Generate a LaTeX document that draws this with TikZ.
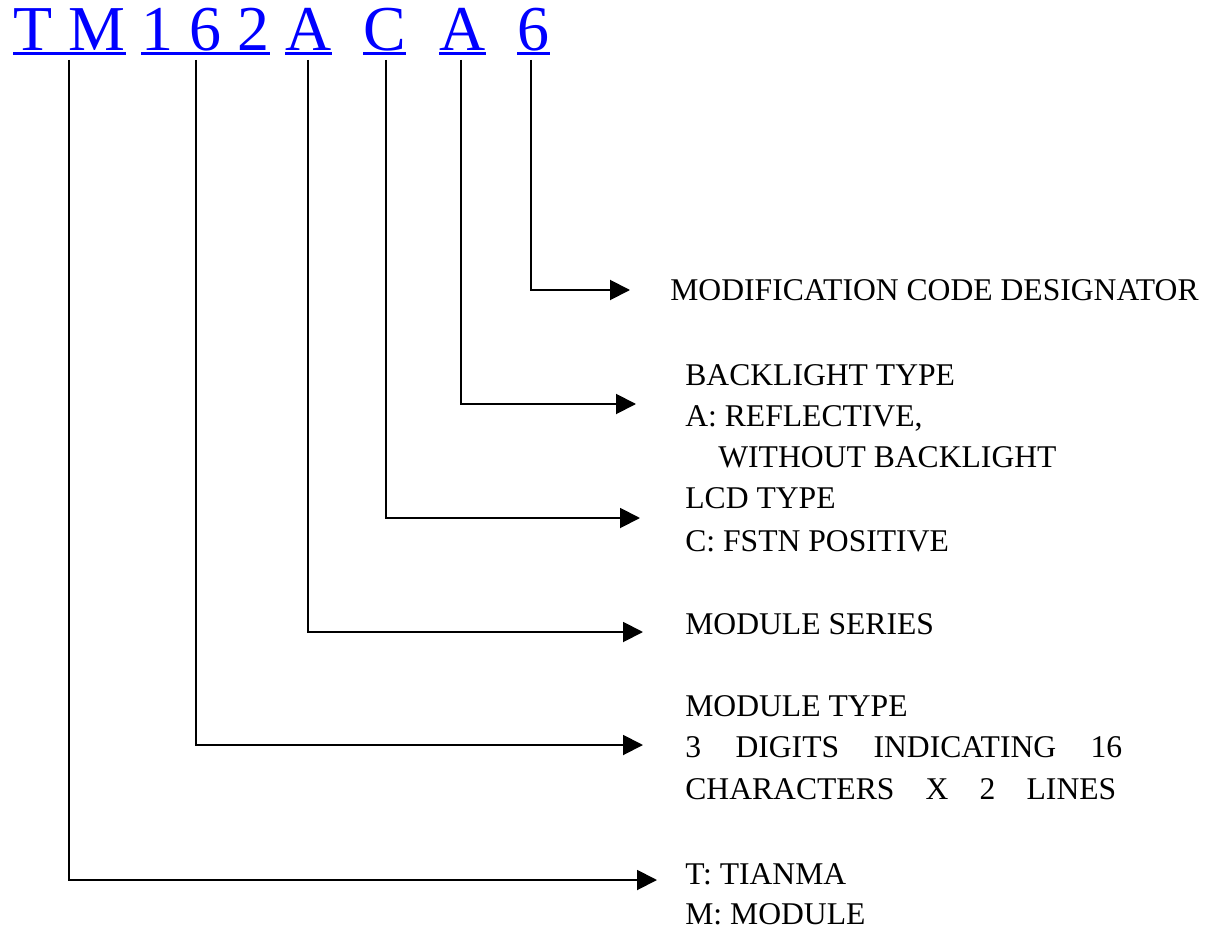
\documentclass[tikz,border=0pt]{standalone}
\usepackage{fontspec}
\setmainfont{Liberation Serif}
\usetikzlibrary{arrows.meta, positioning}

\begin{document}
\begin{tikzpicture}[x=0.02cm, y=-0.02cm,
  code/.style = {text=blue, inner sep=0pt, anchor=base west, font=\fontsize{36.4}{40}\selectfont},
  uline/.style = {blue, line width=1.9pt},
  lbl/.style = {inner sep=0pt, anchor=base west, font=\fontsize{18}{22}\selectfont},
  conn/.style = {line width=1.1pt, -{Triangle[length=0.4cm, width=0.4cm]}}]
  \useasboundingbox (0,0) rectangle (1223,932);

  % part number
  \node[code] (tm)  at (13,51)  {T M};
  \node[code] (num) at (141,51) {1 6 2};
  \node[code] (ser) at (285,51) {A};
  \node[code] (lcd) at (363,51) {C};
  \node[code] (bl)  at (439,51) {A};
  \node[code] (mc)  at (517,51) {6};
  \foreach \g in {tm, num, ser, lcd, bl, mc}
    \draw[uline] ([yshift=-0.05cm]\g.base west) -- ([yshift=-0.05cm]\g.base east);

  % descriptions
  \node[lbl] (mcd)  at (670,301) {MODIFICATION CODE DESIGNATOR};
  \node[lbl] (blt)  at (685,385) {BACKLIGHT TYPE};
  \node[lbl] (bla)  at (685,426) {A: REFLECTIVE,};
  \node[lbl] (blw)  at (718,467) {WITHOUT BACKLIGHT};
  \node[lbl] (lct)  at (685,508) {LCD TYPE};
  \node[lbl] (lcc)  at (685,551) {C: FSTN POSITIVE};
  \node[lbl] (mss)  at (685,634) {MODULE SERIES};
  \node[lbl] (mtt)  at (685,716) {MODULE TYPE};
  \node[lbl] (mtd)  at (685,757) {\makebox[8.74cm][s]{3 DIGITS INDICATING 16}};
  \node[lbl] (mtc)  at (685,799) {\makebox[8.62cm][s]{CHARACTERS X 2 LINES}};
  \node[lbl] (tmt)  at (685,884) {T: TIANMA};
  \node[lbl] (tmm)  at (685,924) {M: MODULE};

  % connectors
  \coordinate (s1) at (69,60);  \coordinate (e1) at (657,880);
  \coordinate (s2) at (196,60); \coordinate (e2) at (643,745);
  \coordinate (s3) at (308,60); \coordinate (e3) at (643,632);
  \coordinate (s4) at (386,60); \coordinate (e4) at (640,518);
  \coordinate (s5) at (461,60); \coordinate (e5) at (636,404);
  \coordinate (s6) at (531,60); \coordinate (e6) at (630,290);
  \foreach \i in {1,...,6}
    \draw[conn] (s\i) |- (e\i);
\end{tikzpicture}
\end{document}
